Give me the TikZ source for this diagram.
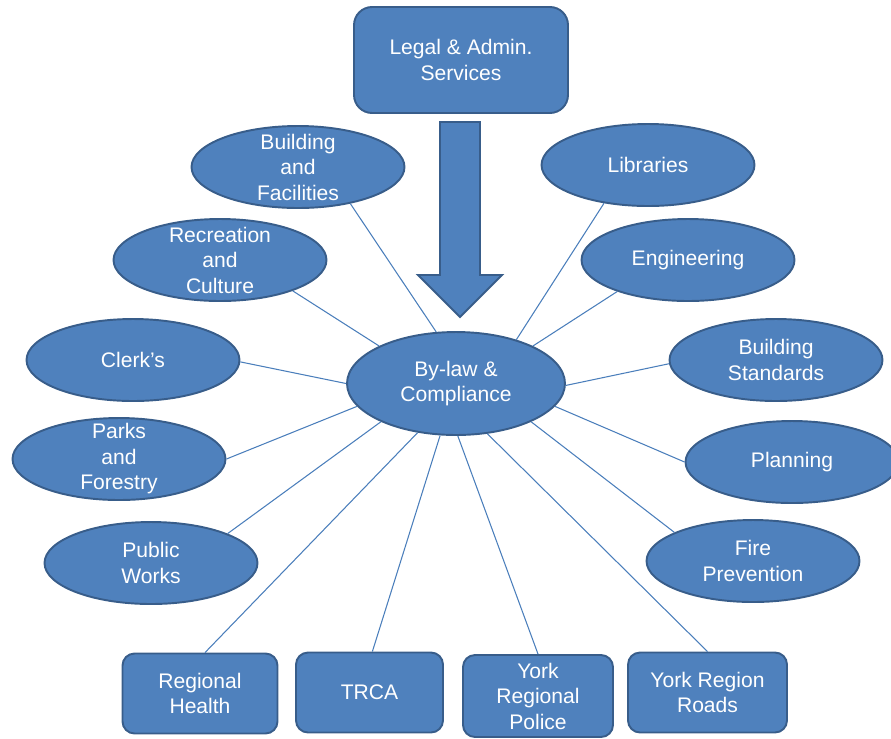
\documentclass[tikz,border=0pt]{standalone}
\usepackage{fontspec}
\setmainfont{Liberation Sans}
\usetikzlibrary{shapes.geometric}
\definecolor{deptblue}{HTML}{4F81BD}
\definecolor{deptedge}{HTML}{385D8A}
\definecolor{linkblue}{HTML}{4A7EBB}

\begin{document}
\begin{tikzpicture}
		[x=0.02cm, y=-0.02cm, font=\fontsize{12}{14.5}\selectfont,
		 dept/.style={ellipse, draw=deptedge, fill=deptblue, line width=1.1pt, text=white,
		   align=center, minimum width=4.26cm, minimum height=1.64cm, inner xsep=0pt, inner ysep=-20pt},
		 agency/.style={rectangle, rounded corners=0.24cm, draw=deptedge, fill=deptblue, line width=1.1pt,
		   text=white, align=center, minimum height=1.6cm, inner sep=1pt},
		 link/.style={draw=linkblue, line width=0.6pt}]
		
		\useasboundingbox (0, 0) rectangle (891, 738);
		
		% top box and arrow --------------------------------------
		\node[agency, rounded corners=0.36cm, minimum width=4.28cm, minimum height=2.12cm] (legal) at (461, 60)
		{Legal \& Admin.\\Services};
		
		\draw[fill=deptblue, draw=deptedge, line width=1.1pt]
		(440, 122) -- (480, 122) -- (480, 275) -- (502, 275) -- (460, 317) -- (418, 275) -- (440, 275) -- cycle;
		
		% hub ----------------------------------------------------
		\node[dept, minimum width=4.36cm, minimum height=2.06cm] (bylaw) at (456, 383.5) {By-law \&\\Compliance};
		
		% left departments ---------------------------------------
		\node[dept] (facilities) at (298, 167) {Building\\and\\Facilities};
		\node[dept] (recreation) at (220, 260) {Recreation\\and\\Culture};
		\node[dept] (clerks) at (133, 360) {Clerk's};
		\node[dept] (parks) at (119, 459) {Parks\\and\\Forestry};
		\node[dept] (works) at (151, 563) {Public\\Works};
		
		% right departments --------------------------------------
		\node[dept] (libraries) at (648, 165) {Libraries};
		\node[dept] (engineering) at (688, 260) {Engineering};
		\node[dept] (standards) at (776, 360) {Building\\Standards};
		\node[dept] (planning) at (792, 462) {Planning};
		\node[dept] (fire) at (753, 561) {Fire\\Prevention};
		
		% outside agencies ---------------------------------------
		\node[agency, minimum width=3.1cm] (health) at (200, 693.5) {Regional\\Health};
		\node[agency, minimum width=2.94cm] (trca) at (369.5, 692.5) {TRCA};
		\node[agency, minimum width=3.0cm, minimum height=1.64cm] (police) at (538, 696) {York\\Regional\\Police};
		\node[agency, minimum width=3.18cm] (roads) at (707.5, 692.5) {York Region\\Roads};
		
		% links --------------------------------------------------
		\draw[link] (bylaw.111) -- (facilities.-35);
		\draw[link] (bylaw.154) -- (recreation.-23);
		\draw[link] (bylaw.180) -- (clerks.-1);
		\draw[link] (bylaw.-167) -- (parks.0);
		\draw[link] (bylaw.-153) -- (works.21);
		\draw[link] (bylaw.-128) -- (health.83);
		\draw[link] (bylaw.-107) -- (trca.86);
		\draw[link] (bylaw.-88) -- (police.north);
		\draw[link] (bylaw.-58) -- (roads.north);
		\draw[link] (bylaw.-27) -- (fire.160);
		\draw[link] (bylaw.-13) -- (planning.180);
		\draw[link] (bylaw.-1) -- (standards.-178);
		\draw[link] (bylaw.26) -- (engineering.-156);
		\draw[link] (bylaw.36) -- (libraries.-139);
		\end{tikzpicture}
\end{document}
